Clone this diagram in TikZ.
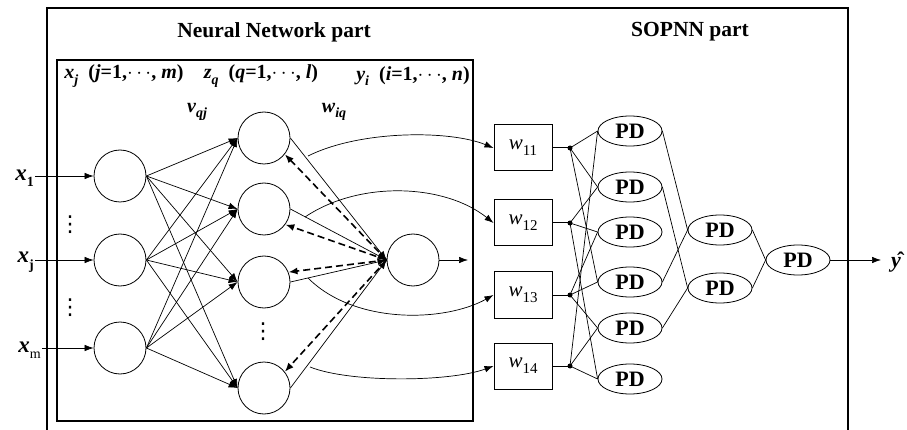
\documentclass[tikz,border=0pt]{standalone}
\usepackage{fontspec}
\setmainfont{Liberation Serif}
\newfontfamily\dvfont{DejaVu Sans}
\usetikzlibrary{arrows.meta,shapes.geometric,calc}
\newcommand{\lsub}[2][13]{\raisebox{-0.28em}{\fontsize{#1}{#1}\selectfont #2}}
\begin{document}
\begin{tikzpicture}[x=1pt,y=-1pt,
  neuron/.style={circle,draw,line width=0.8pt,minimum size=52pt,inner sep=0pt},
  pd/.style={ellipse,draw,line width=0.8pt,minimum width=64pt,minimum height=30pt,inner sep=0pt,font=\fontsize{22}{22}\selectfont\bfseries},
  wbox/.style={rectangle,draw,line width=1pt,minimum width=58pt,minimum height=46pt,inner sep=0pt,font=\fontsize{21}{21}\selectfont},
  conn/.style={line width=0.7pt},
  arr/.style={conn,-{Latex[length=9pt,width=6.5pt]}},
  darr/.style={line width=1.6pt,dash pattern=on 7pt off 4pt,-{Latex[length=9pt,width=7pt]}},
  jdot/.style={circle,fill,inner sep=0pt,minimum size=5pt},
  lab/.style={font=\fontsize{20}{22}\selectfont\bfseries},
  title/.style={font=\fontsize{21.5}{24}\selectfont\bfseries},
  inlab/.style={font=\fontsize{23}{23}\selectfont\bfseries\itshape,anchor=east,inner sep=1pt},
  vd/.style={font=\fontsize{22}{22}\selectfont\dvfont,inner sep=0pt}
]
\useasboundingbox (0,0) rectangle (907,430);
\fill[white] (0,0) rectangle (907,430);
% frames
\draw[line width=1.4pt] (47,431) -- (47,8) -- (848,8) -- (848,431);
\draw[line width=1.4pt] (57,60) rectangle (473,421);
% titles
\node[title] (t1) at (274,32) {Neural Network part};
\node[title] (t2) at (690,32) {SOPNN part};
% header labels
\node[lab] (hx) at (124,76) {\textit{x}\lsub[14]{\textit{j}}\ \ (\textit{j}=1,$\cdots$, \textit{m})};
\node[lab] (hz) at (261,76) {\textit{z}\lsub[14]{\textit{q}}\ \ (\textit{q}=1,$\cdots$, \textit{l})};
\node[lab] (hy) at (413,76) {\textit{y}\lsub[14]{\textit{i}}\ \ (\textit{i}=1,$\cdots$, \textit{n})};
\node[lab] (lv) at (197,112) {\textit{v}\lsub[14]{\textit{qj}}};
\node[lab] (lw) at (334,112) {\textit{w}\lsub[14]{\textit{iq}}};
% neurons
\node[neuron] (i1) at (120,176) {};
\node[neuron] (i2) at (120,260) {};
\node[neuron] (i3) at (120,348) {};
\node[neuron] (h1) at (264,138) {};
\node[neuron] (h2) at (264,209) {};
\node[neuron] (h3) at (264,282) {};
\node[neuron] (h4) at (264,388) {};
\node[neuron] (o) at (413,260) {};
% dots
\node[vd] (d1) at (70,225) {⋮};
\node[vd] (d2) at (70,308) {⋮};
\node[vd] (d3) at (263,332) {⋮};
% input labels
\node[inlab] (lx1) at (35,178) {x\lsub[14]{\upshape 1}};
\node[inlab] (lx2) at (35,262) {x\lsub[14]{\upshape j}};
\node[inlab] (lx3) at (42,350) {x\lsub[14]{\upshape\mdseries m}};
\draw[arr] (lx1.east |- i1.west) -- (i1.west);
\draw[arr] (lx2.east |- i2.west) -- (i2.west);
\draw[arr] (lx3.east |- i3.west) -- (i3.west);
% input -> hidden
\foreach \a in {i1,i2,i3}{
  \foreach \b in {h1,h2,h3,h4}{
    \draw[arr] (\a.east) -- (\b.west);
  }
}
% hidden -> output
\foreach \b in {h1,h2,h3,h4}{
  \draw[arr] (\b.east) -- (o.west);
}
\draw[darr] (o.west) -- (h1.-38);
\draw[darr] (o.west) -- (h2.-36);
\draw[darr] (o.west) -- (h3.22);
\draw[darr] (o.west) -- (h4.38);
\coordinate (oend) at (468,260);
\draw[arr] (o.east) -- (oend);
% SOPNN boxes
\node[wbox] (w1) at (523,148) {\textit{w}\lsub[15]{11}};
\node[wbox] (w2) at (523,223) {\textit{w}\lsub[15]{12}};
\node[wbox] (w3) at (523,295) {\textit{w}\lsub[15]{13}};
\node[wbox] (w4) at (523,366) {\textit{w}\lsub[15]{14}};
% curves hidden -> w
\coordinate (c1) at (308,156);
\coordinate (c2) at (305,217);
\coordinate (c3) at (308,278);
\coordinate (c4) at (310,367);
\draw[arr] (c1) .. controls (360,130) and (450,130) .. (w1.west);
\draw[arr] (c2) .. controls (360,180) and (445,184) .. (w2.west);
\draw[arr] (c3) .. controls (355,325) and (445,322) .. (w3.west);
\draw[arr] (c4) .. controls (350,383) and (450,382) .. (w4.west);
% junctions
\node[jdot] (j1) at (570,148) {};
\node[jdot] (j2) at (570,223) {};
\node[jdot] (j3) at (570,295) {};
\node[jdot] (j4) at (570,366) {};
\draw[line width=1pt] (w1.east) -- (j1.center);
\draw[line width=1pt] (w2.east) -- (j2.center);
\draw[line width=1pt] (w3.east) -- (j3.center);
\draw[line width=1pt] (w4.east) -- (j4.center);
% PD layers
\node[pd] (p1) at (630,131) {PD};
\node[pd] (p2) at (630,187) {PD};
\node[pd] (p3) at (630,232) {PD};
\node[pd] (p4) at (630,282) {PD};
\node[pd] (p5) at (630,328) {PD};
\node[pd] (p6) at (630,379) {PD};
\node[pd] (q1) at (720,230) {PD};
\node[pd] (q2) at (720,288) {PD};
\node[pd] (f) at (798,260) {PD};
\draw[conn] (j1.center) -- (p1.west);
\draw[conn] (j4.center) -- (p1.west);
\draw[conn] (j1.center) -- (p2.west);
\draw[conn] (j2.center) -- (p2.west);
\draw[conn] (j2.center) -- (p3.west);
\draw[conn] (j3.center) -- (p3.west);
\draw[conn] (j1.center) -- (p4.west);
\draw[conn] (j3.center) -- (p4.west);
\draw[conn] (j3.center) -- (p5.west);
\draw[conn] (j4.center) -- (p5.west);
\draw[conn] (j2.center) -- (p6.west);
\draw[conn] (j4.center) -- (p6.west);
\draw[conn] (p1.east) -- (q1.west);
\draw[conn] (p4.east) -- (q1.west);
\draw[conn] (p2.east) -- (q2.west);
\draw[conn] (p5.east) -- (q2.west);
\draw[conn] (q1.east) -- (f.west);
\draw[conn] (q2.east) -- (f.west);
\coordinate (yend) at (881,260);
\draw[arr] (f.east) -- (yend);
\node[font=\fontsize{22}{22}\selectfont\bfseries,inner sep=0pt] (yh) at (896,262) {\^{\textit{y}}};
\end{tikzpicture}
\end{document}
